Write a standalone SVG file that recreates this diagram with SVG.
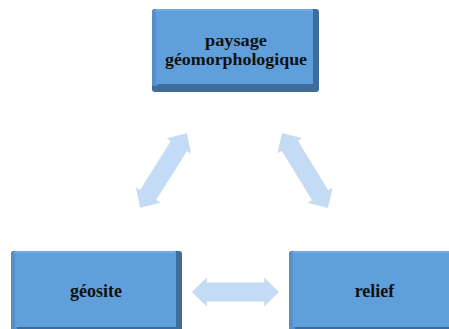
<svg xmlns="http://www.w3.org/2000/svg" width="449" height="329" viewBox="0 0 449 329">
<defs>
<style>
.outer{fill:#3f6d9b}
.lbev{fill:#5490cb}
.tbev{fill:#70ace3}
.face{fill:#5fa0dc}
.lbl{font-family:"Liberation Serif","Times New Roman",serif;font-weight:bold;font-size:18px;fill:#111;text-anchor:middle}
.sm{font-size:17px}
.arr{fill:#c3dbf5}
</style>
<path id="dbl" d="M-44,0 L-29,-14.5 L-29,-9.5 L29,-9.5 L29,-14.5 L44,0 L29,14.5 L29,9.5 L-29,9.5 L-29,14.5 Z"/>
</defs>
<rect width="449" height="329" fill="#ffffff"/>
<g id="connectors" class="arr">
<use href="#dbl" transform="translate(235.5,292) scale(0.99,1)"/>
<use href="#dbl" transform="translate(163.5,170.5) rotate(-57.9)"/>
<use href="#dbl" transform="translate(305,170.5) rotate(58.5)"/>
</g>
<g id="paysage">
<rect class="outer" x="152" y="9" width="167" height="83" rx="3"/>
<rect class="lbev" x="152" y="10" width="6" height="76" rx="2"/>
<rect class="tbev" x="155" y="9" width="158" height="3" rx="1.5"/>
<rect class="face" x="156" y="11" width="157" height="73"/>
<text class="lbl sm" x="236" y="46" textLength="62" lengthAdjust="spacingAndGlyphs">paysage</text>
<text class="lbl sm" x="236" y="65" textLength="142" lengthAdjust="spacingAndGlyphs">géomorphologique</text>
</g>
<g id="geosite">
<rect class="outer" x="11" y="251" width="171" height="84" rx="3"/>
<rect class="lbev" x="11" y="252" width="6" height="80" rx="2"/>
<rect class="tbev" x="14" y="251" width="162" height="3" rx="1.5"/>
<rect class="face" x="15" y="253" width="161" height="74"/>
<text class="lbl" x="96" y="297">géosite</text>
</g>
<g id="relief">
<rect class="outer" x="289" y="251" width="171" height="84" rx="3"/>
<rect class="lbev" x="289" y="252" width="6" height="80" rx="2"/>
<rect class="tbev" x="292" y="251" width="162" height="3" rx="1.5"/>
<rect class="face" x="293" y="253" width="161" height="74"/>
<text class="lbl" x="374.5" y="297">relief</text>
</g>
</svg>
